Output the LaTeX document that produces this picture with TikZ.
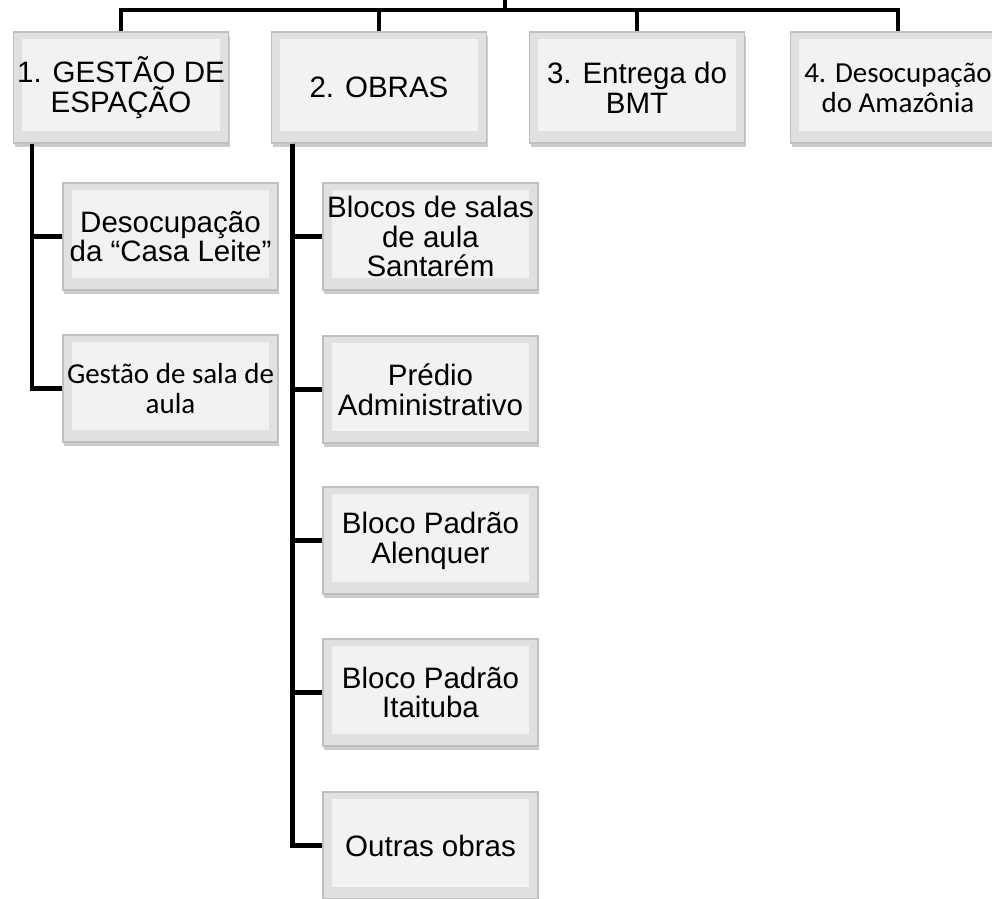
\documentclass[tikz,border=0pt]{standalone}
\usepackage{fontspec}
\setmainfont{Liberation Sans}
\newfontfamily\calfont{Carlito}
\usetikzlibrary{shadows}

\begin{document}
\begin{tikzpicture}[x=0.02cm, y=-0.02cm,
    bevel/.style={draw=gray!50, line width=0.6pt, fill=gray!24,
      minimum width=4.3cm, minimum height=2.14cm, inner sep=0pt, align=center,
      font=\fontsize{16.8}{17}\selectfont,
      drop shadow={shadow xshift=0.6pt, shadow yshift=-2.5pt, opacity=0.4, fill=gray},
      path picture={\fill[gray!10] ([shift={(5pt,-4pt)}]path picture bounding box.north west)
        rectangle ([shift={(-5pt,7pt)}]path picture bounding box.south east);}},
    topbox/.style={bevel, minimum height=2.22cm},
    calibri/.style={font=\calfont\fontsize{16.5}{17}\selectfont},
    link/.style={line width=2.3pt}]
    \useasboundingbox (0,0) rectangle (992,899);

    % Top level
    \node[topbox] (g1) at (121,87.5) {1. GESTÃO DE\\ESPAÇÃO};
    \node[topbox] (g2) at (379,87.5) {2. OBRAS};
    \node[topbox] (g3) at (637,87.5) {3. Entrega do\\BMT};
    \node[topbox, calibri] (g4) at (898,87.5) {4. Desocupação\\do Amazônia};

    % Under 1
    \node[bevel] (e1) at (170.5,236.5) {Desocupação\\da “Casa Leite”};
    \node[bevel, calibri] (e2) at (170.5,388.5) {Gestão de sala de\\aula};

    % Under 2
    \node[bevel] (o1) at (430.5,236.5) {Blocos de salas\\de aula\\Santarém};
    \node[bevel] (o2) at (430.5,389.5) {Prédio\\Administrativo};
    \node[bevel] (o3) at (430.5,540.5) {Bloco Padrão\\Alenquer};
    \node[bevel] (o4) at (430.5,692.5) {Bloco Padrão\\Itaituba};
    \node[bevel] (o5) at (430.5,845.5) {Outras obras};

    % Top bus
    \coordinate (root) at (505,0);
    \coordinate (bus) at (505,10);
    \draw[link] (root) -- (bus);
    \foreach \n in {g1,g2,g3,g4}
        \draw[link] (bus) -| (\n.north);

    % Trunks
    \coordinate (t1) at ([xshift=0.38cm]g1.south west);
    \coordinate (t2) at ([xshift=0.43cm]g2.south west);
    \foreach \c in {e1,e2}
        \draw[link] (t1) |- (\c);
    \foreach \c in {o1,o2,o3,o4,o5}
        \draw[link] (t2) |- (\c);
\end{tikzpicture}
\end{document}
